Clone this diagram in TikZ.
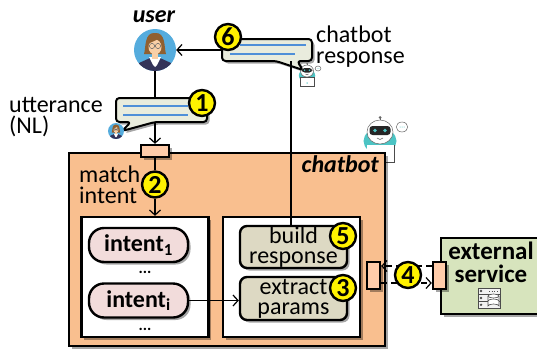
\documentclass[tikz,border=0pt]{standalone}
\usepackage{fontspec}
\setmainfont{Carlito}
\usetikzlibrary{shadows,arrows.meta}
\definecolor{boxorange}{HTML}{F9BF8F}
\definecolor{portfill}{HTML}{FFCCAA}
\definecolor{bubblefill}{HTML}{E9ECDD}
\definecolor{stepfill}{HTML}{DDD9C3}
\definecolor{intentfill}{HTML}{F2DCDB}
\definecolor{extfill}{HTML}{D7E4BD}
\definecolor{lineblue}{HTML}{4F8FD8}
\definecolor{avblue}{HTML}{55ACDD}
\definecolor{teal1}{HTML}{4CC4C4}
\tikzset{
  shade1/.style={drop shadow={shadow xshift=2.5pt,shadow yshift=-2.5pt,fill=black,opacity=.35}},
  container/.style={draw=black,line width=2.4pt,inner sep=0pt,shade1},
  pillbox/.style={container,fill=intentfill,rounded corners=15pt,minimum width=99pt,minimum height=34pt,font=\fontsize{24}{24}\selectfont\bfseries},
  taskbox/.style={container,fill=stepfill,rounded corners=7pt,minimum width=107pt,align=center,font=\fontsize{24}{20}\selectfont},
  portbox/.style={container,fill=portfill},
  badge/.style={circle,draw=black,line width=2.4pt,fill=yellow,inner sep=0pt,minimum size=26pt,font=\fontsize{26}{26}\selectfont\bfseries},
  plain/.style={inner sep=0pt,align=left,font=\fontsize{24}{21}\selectfont},
  link/.style={draw=black,line width=1.2pt},
  arrowlink/.style={link,-{Straight Barb[length=5pt,width=11pt,line width=1.2pt]}},
  dashlink/.style={arrowlink,dash pattern=on 6pt off 4pt},
  bubbleshape/.style={draw=black,line width=2pt,fill=bubblefill,rounded corners=3.5pt,line join=round,shade1},
  textline/.style={draw=lineblue,line width=1.2pt},
  woman/.pic={
    \fill[avblue] (0,0) circle (21);
    \begin{scope}
      \clip (0,0) circle (21);
      \fill[black!75!blue!60!gray] (-17,22)--(-16,13)--(-5,8)--(5,8)--(16,13)--(17,22)--cycle;
      \fill[white] (-6,7)--(6,7)--(2,15)--(0,17)--(-2,15)--cycle;
      \fill[brown!75!black] (-11,4) .. controls (-9,-2) and (-11,-18) .. (0,-17) .. controls (11,-18) and (9,-2) .. (11,4) -- cycle;
      \fill[orange!30!white!90!brown] (-3,2) rectangle (3,9);
      \fill[orange!30!white!90!brown] (0,-3) ellipse (6.5 and 7.5);
      \fill[brown!75!black] (-7,-5) .. controls (-5,-9) and (1,-8) .. (3,-12) .. controls (4,-9) and (6,-8) .. (7,-5) -- (7,-13) -- (-7,-13) -- cycle;
      \draw[black!60,line width=.5pt] (-3,-4) circle (2.6) (3,-4) circle (2.6);
    \end{scope}
  },
  robot/.pic={
    \fill[teal1] (0,9) ellipse (16.5 and 13);
    \draw[black!70,fill=white,line width=.5pt] (-13,13) rectangle (14,30) ;
    \fill[white] (-13,13) rectangle (14,20);
    \fill[teal1] (0,24) circle (1.5);
    \draw[black!60,fill=white,line width=.5pt] (0,0) ellipse (13 and 12);
    \fill[black!85,rounded corners=3pt] (-10.5,-6) rectangle (10.5,3);
    \fill[teal1] (-5,-1.5) circle (1.8) (5,-1.5) circle (1.8);
    \draw[black!60,line width=.5pt] (-3,6) .. controls (-1,8) and (1,8) .. (3,6);
    \draw[black!60,line width=.6pt] (0,-12) -- (0,-14);
    \fill[black!60] (0,-14.5) circle (1.5);
    \draw[black!60,fill=white,line width=.5pt] (22,-5) ellipse (5.8 and 5);
    \fill[teal1] (20,-5) circle (.5) (22,-5) circle (.5) (24,-5) circle (.5);
  },
  servericon/.pic={
    \draw[black!70,fill=white!90!gray,line width=.6pt] (-11,-10) rectangle (11,10);
    \draw[black!70,line width=.6pt] (-11,-3.5) -- (11,-3.5) (-11,3.5) -- (11,3.5);
    \fill[black!70] (-8,-7) circle (1.3) (-8,0) circle (1.3) (-8,6.8) circle (1.3);
    \draw[black!70,dotted,line width=.7pt] (0,-7) -- (9,-7);
    \draw[black!70,fill=white,line width=.6pt] (-1,-2) -- (-1,8) arc[start angle=180,end angle=0,x radius=5.5,y radius=-2] -- (10,-2);
    \draw[black!70,fill=white,line width=.6pt] (4.5,-2) ellipse (5.5 and 2);
    \draw[black!70,line width=.6pt] (-1,3) arc[start angle=180,end angle=0,x radius=5.5,y radius=-2];
  },
}
\begin{document}
\begin{tikzpicture}[x=1pt,y=-1pt]
\useasboundingbox (0,0) rectangle (537,348);
% robot sits behind the chatbot box
\pic at (380,132) {robot};
% containers
\node[container,fill=boxorange,minimum width=316pt,minimum height=193pt] (chatbotbox) at (227,249.5) {};
\node[container,fill=white,minimum width=127pt,minimum height=120pt] (intentsbox) at (145,277) {};
\node[container,fill=white,minimum width=137pt,minimum height=120pt] (actionsbox) at (291.5,277) {};
\node[container,fill=extfill,minimum width=100pt,minimum height=76pt,anchor=west] (extbox) at (440,276) {};
% tasks & intents
\node[pillbox] (intent1) at (138.5,245) {intent\textsubscript{1}};
\node[pillbox] (intenti) at (138.5,300.5) {intent\textsubscript{i}};
\node[inner sep=0pt,font=\fontsize{16}{16}\selectfont\bfseries] (dots1) at (145,272) {...};
\node[inner sep=0pt,font=\fontsize{16}{16}\selectfont\bfseries] (dots2) at (145,329) {...};
\node[taskbox,minimum height=42pt] (build) at (293.5,247) {build\\response};
\node[taskbox,minimum height=43pt] (extract) at (293.5,298.5) {extract\\params};
% user
\node[inner sep=0pt,font=\fontsize{24}{24}\selectfont\bfseries\itshape] (userlabel) at (154,17) {user};
\pic at (155,50) {woman};
\node[circle,minimum size=42pt,inner sep=0pt] (user) at (155,50) {};
% texts
\node[plain,anchor=west] (utter) at (9,117) {utterance\\(NL)};
\node[plain,anchor=west] (resp) at (316,47) {chatbot\\response};
\node[plain,anchor=west] (match) at (79,185) {match\\intent};
\node[inner sep=0pt,anchor=east,font=\fontsize{24}{24}\selectfont\bfseries\itshape] (chatbotlabel) at (379,164) {chatbot};
\node[inner sep=0pt,align=center,font=\fontsize{25}{23}\selectfont\bfseries] (exttext) at (491,262) {external\\service};
\pic at (489,298) {servericon};
% bubble 1
\coordinate (bub1top) at (155,98);
\coordinate (bub1bot) at (155,122);
\draw[bubbleshape] (116,98) -- (207,98) -- (207,122) -- (155,122) -- (122,131) -- (131,122) -- (116,122) -- cycle;
\draw[textline] (123,106) -- (188,106) (123,115) -- (188,115);
\pic[scale=.38] at (116,131) {woman};
% bubble 6
\coordinate (bub6left) at (222,50);
\coordinate (bub6bot) at (291,61);
\pic[scale=.5] at (307,71) {robot};
\draw[bubbleshape] (222,39) -- (312,39) -- (312,61) -- (297,61) -- (303,70) -- (276,61) -- (222,61) -- cycle;
\draw[textline] (240,45) -- (306,45) (230,54) -- (295,54);
% ports
\node[portbox,minimum width=28pt,minimum height=12pt] (porttop) at (155,151) {};
\node[portbox,minimum width=13pt,minimum height=27pt] (portleft) at (373.5,275.5) {};
\node[portbox,minimum width=13pt,minimum height=27pt] (portright) at (439.5,275.5) {};
% connectors
\draw[arrowlink] (bub6left) -- (user.east);
\draw[link] (user.south) -- (bub1top);
\draw[arrowlink] (bub1bot) -- (porttop.north);
\draw[link] (build.north -| bub6bot) -- (bub6bot);
\node[badge] (b2) at (155,184.5) {2};
\draw[link] (porttop.south) -- (b2.north);
\draw[arrowlink] (b2.south) -- (intentsbox.north -| b2);
\draw[arrowlink] (intenti.east) -- (extract.west |- intenti);
\draw[dashlink] (portright.west |- 0,266) -- (portleft.east |- 0,266);
\draw[dashlink] (portleft.east |- 0,283) -- (portright.west |- 0,283);
% badges
\node[badge] (b1) at (202,103) {1};
\node[badge] (b6) at (228,37) {6};
\node[badge] (b5) at (343,236) {5};
\node[badge] (b3) at (343,288) {3};
\node[badge] (b4) at (408,275) {4};
\end{tikzpicture}
\end{document}
